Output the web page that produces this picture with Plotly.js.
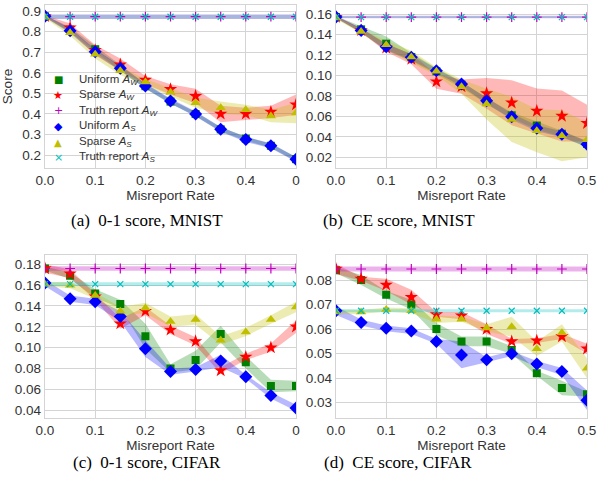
<!DOCTYPE html>
<html>
<head>
<meta charset="utf-8">
<script src="https://cdn.plot.ly/plotly-3.0.1.min.js"></script>
<style>html,body{margin:0;padding:0;background:#fff;}#chart{width:603px;height:485px;}</style>
</head>
<body>
<div id="chart"></div>
<script>
// ---------- data ----------
const misreportRate = [0, 0.05, 0.1, 0.15, 0.2, 0.25, 0.3, 0.35, 0.4, 0.45, 0.5];

const seriesNames = ["Uniform A_W", "Sparse A_W", "Truth report A_W", "Uniform A_S", "Sparse A_S", "Truth report A_S"];

// (a) 0-1 score, MNIST
const a_uniformAW    = [0.875, 0.81, 0.715, 0.625, 0.535, 0.46, 0.40, 0.325, 0.28, 0.245, 0.18];
const a_uniformAW_sd = [0.005, 0.012, 0.015, 0.015, 0.012, 0.01, 0.01, 0.01, 0.01, 0.01, 0.01];
const a_sparseAW     = [0.875, 0.82, 0.71, 0.64, 0.565, 0.52, 0.487, 0.40, 0.40, 0.41, 0.445];
const a_sparseAW_sd  = [0.005, 0.02, 0.025, 0.03, 0.02, 0.025, 0.035, 0.04, 0.03, 0.03, 0.05];
const a_truthAW      = [0.873, 0.873, 0.873, 0.873, 0.873, 0.873, 0.873, 0.873, 0.873, 0.873, 0.873];
const a_truthAW_sd   = [0.011, 0.011, 0.011, 0.011, 0.011, 0.011, 0.011, 0.011, 0.011, 0.011, 0.011];
const a_uniformAS    = [0.875, 0.805, 0.703, 0.622, 0.536, 0.463, 0.40, 0.325, 0.276, 0.245, 0.179];
const a_uniformAS_sd = [0.005, 0.012, 0.012, 0.012, 0.012, 0.012, 0.012, 0.012, 0.012, 0.012, 0.012];
const a_sparseAS     = [0.87, 0.795, 0.69, 0.61, 0.555, 0.505, 0.455, 0.43, 0.42, 0.39, 0.405];
const a_sparseAS_sd  = [0.005, 0.015, 0.02, 0.02, 0.015, 0.02, 0.025, 0.03, 0.025, 0.03, 0.05];
const a_truthAS      = [0.873, 0.873, 0.873, 0.873, 0.873, 0.873, 0.873, 0.873, 0.873, 0.873, 0.873];
const a_truthAS_sd   = [0.01, 0.01, 0.01, 0.01, 0.01, 0.01, 0.01, 0.01, 0.01, 0.01, 0.01];

// (b) CE score, MNIST
const b_uniformAW    = [0.157, 0.145, 0.131, 0.118, 0.104, 0.091, 0.075, 0.061, 0.051, 0.043, 0.033];
const b_uniformAW_sd = [0.001, 0.003, 0.007, 0.004, 0.003, 0.003, 0.003, 0.003, 0.004, 0.003, 0.003];
const b_sparseAW     = [0.157, 0.144, 0.127, 0.116, 0.094, 0.089, 0.0825, 0.0733, 0.0652, 0.0603, 0.0532];
const b_sparseAW_sd  = [0.001, 0.002, 0.004, 0.005, 0.007, 0.007, 0.015, 0.022, 0.022, 0.025, 0.018];
const b_truthAW      = [0.157, 0.157, 0.157, 0.157, 0.157, 0.157, 0.157, 0.157, 0.157, 0.157, 0.157];
const b_truthAW_sd   = [0.0012, 0.0012, 0.0012, 0.0012, 0.0012, 0.0012, 0.0012, 0.0012, 0.0012, 0.0012, 0.0012];
const b_uniformAS    = [0.157, 0.144, 0.128, 0.1177, 0.1046, 0.0916, 0.0753, 0.0597, 0.0483, 0.0425, 0.0327];
const b_uniformAS_sd = [0.001, 0.002, 0.003, 0.003, 0.002, 0.002, 0.003, 0.003, 0.003, 0.003, 0.003];
const b_sparseAS     = [0.156, 0.143, 0.130, 0.118, 0.104, 0.089, 0.072, 0.057, 0.046, 0.041, 0.037];
const b_sparseAS_sd  = [0.001, 0.002, 0.004, 0.006, 0.004, 0.007, 0.015, 0.022, 0.021, 0.025, 0.017];
const b_truthAS      = [0.157, 0.157, 0.157, 0.157, 0.157, 0.157, 0.157, 0.157, 0.157, 0.157, 0.157];
const b_truthAS_sd   = [0.0008, 0.0008, 0.0008, 0.0008, 0.0008, 0.0008, 0.0008, 0.0008, 0.0008, 0.0008, 0.0008];

// (c) 0-1 score, CIFAR
const c_uniformAW    = [0.176, 0.169, 0.152, 0.142, 0.111, 0.080, 0.088, 0.113, 0.086, 0.063, 0.063];
const c_uniformAW_sd = [0.002, 0.003, 0.004, 0.004, 0.012, 0.004, 0.009, 0.008, 0.006, 0.006, 0.005];
const c_sparseAW     = [0.176, 0.171, 0.149, 0.123, 0.135, 0.117, 0.106, 0.078, 0.091, 0.100, 0.120];
const c_sparseAW_sd  = [0.004, 0.004, 0.003, 0.005, 0.004, 0.004, 0.004, 0.003, 0.003, 0.004, 0.006];
const c_truthAW      = [0.176, 0.176, 0.176, 0.176, 0.176, 0.176, 0.176, 0.176, 0.176, 0.176, 0.176];
const c_truthAW_sd   = [0.0022, 0.0022, 0.0022, 0.0022, 0.0022, 0.0022, 0.0022, 0.0022, 0.0022, 0.0022, 0.0022];
const c_uniformAS    = [0.162, 0.147, 0.144, 0.130, 0.099, 0.077, 0.079, 0.087, 0.072, 0.054, 0.042];
const c_uniformAS_sd = [0.003, 0.003, 0.003, 0.005, 0.008, 0.003, 0.002, 0.006, 0.002, 0.003, 0.003];
const c_sparseAS     = [0.161, 0.160, 0.150, 0.135, 0.138, 0.125, 0.127, 0.107, 0.115, 0.127, 0.139];
const c_sparseAS_sd  = [0.002, 0.003, 0.003, 0.004, 0.005, 0.005, 0.005, 0.004, 0.004, 0.004, 0.005];
const c_truthAS      = [0.161, 0.161, 0.161, 0.161, 0.161, 0.161, 0.161, 0.161, 0.161, 0.161, 0.161];
const c_truthAS_sd   = [0.0018, 0.0018, 0.0018, 0.0018, 0.0018, 0.0018, 0.0018, 0.0018, 0.0018, 0.0018, 0.0018];

// (d) CE score, CIFAR
const d_uniformAW    = [0.084, 0.080, 0.074, 0.070, 0.060, 0.055, 0.055, 0.0515, 0.042, 0.036, 0.0335];
const d_uniformAW_sd = [0.0012, 0.002, 0.0015, 0.002, 0.0025, 0.002, 0.002, 0.0015, 0.001, 0.003, 0.001];
const d_sparseAW     = [0.0845, 0.0805, 0.078, 0.073, 0.066, 0.0655, 0.060, 0.055, 0.0553, 0.057, 0.052];
const d_sparseAW_sd  = [0.002, 0.0008, 0.0025, 0.003, 0.001, 0.0015, 0.002, 0.001, 0.001, 0.001, 0.002];
const d_truthAW      = [0.0845, 0.0845, 0.0845, 0.0845, 0.0845, 0.0845, 0.0845, 0.0845, 0.0845, 0.0845, 0.0845];
const d_truthAW_sd   = [0.001, 0.001, 0.001, 0.001, 0.001, 0.001, 0.001, 0.001, 0.001, 0.001, 0.001];
const d_uniformAS    = [0.0675, 0.0627, 0.0603, 0.0592, 0.055, 0.0495, 0.0475, 0.050, 0.0458, 0.0427, 0.031];
const d_uniformAS_sd = [0.0018, 0.0012, 0.0012, 0.0012, 0.001, 0.0055, 0.001, 0.001, 0.0012, 0.0015, 0.004];
const d_sparseAS     = [0.067, 0.067, 0.068, 0.0675, 0.064, 0.064, 0.0605, 0.061, 0.052, 0.0585, 0.044];
const d_sparseAS_sd  = [0.001, 0.0008, 0.0008, 0.001, 0.0015, 0.001, 0.0015, 0.004, 0.003, 0.0035, 0.004];
const d_truthAS      = [0.0675, 0.0675, 0.0675, 0.0675, 0.0675, 0.0675, 0.0675, 0.0675, 0.0675, 0.0675, 0.0675];
const d_truthAS_sd   = [0.0006, 0.0006, 0.0006, 0.0006, 0.0006, 0.0006, 0.0006, 0.0006, 0.0006, 0.0006, 0.0006];

// tick labels
const xTickVals = [0, 0.1, 0.2, 0.3, 0.4, 0.5];
const xTickTextFull = ["0.0", "0.1", "0.2", "0.3", "0.4", "0.5"];
const xTickTextCut  = ["0.0", "0.1", "0.2", "0.3", "0.4", "0"];
const aTickVals = [0.2, 0.3, 0.4, 0.5, 0.6, 0.7, 0.8, 0.9];
const aTickText = ["0.2", "0.3", "0.4", "0.5", "0.6", "0.7", "0.8", "0.9"];
const bTickVals = [0.02, 0.04, 0.06, 0.08, 0.10, 0.12, 0.14, 0.16];
const bTickText = ["0.02", "0.04", "0.06", "0.08", "0.10", "0.12", "0.14", "0.16"];
const cTickVals = [0.04, 0.06, 0.08, 0.10, 0.12, 0.14, 0.16, 0.18];
const cTickText = ["0.04", "0.06", "0.08", "0.10", "0.12", "0.14", "0.16", "0.18"];
const dTickVals = [0.03, 0.04, 0.05, 0.06, 0.07, 0.08];
const dTickText = ["0.03", "0.04", "0.05", "0.06", "0.07", "0.08"];

const captions = ["(a)&nbsp;&nbsp;0-1 score, MNIST", "(b)&nbsp;&nbsp;CE score, MNIST", "(c)&nbsp;&nbsp;0-1 score, CIFAR", "(d)&nbsp;&nbsp;CE score, CIFAR"];
const legendLabels = ["Uniform <i>A</i><sub><i>W</i></sub>", "Sparse <i>A</i><sub><i>W</i></sub>", "Truth report <i>A</i><sub><i>W</i></sub>",
                      "Uniform <i>A</i><sub><i>S</i></sub>", "Sparse <i>A</i><sub><i>S</i></sub>", "Truth report <i>A</i><sub><i>S</i></sub>"];
const legendGlyphs = ["\u25A0", "\u2605", "+", "\u25C6", "\u25B2", "\u00D7"];

// ---------- styles ----------
const styles = [
  {color: "#008000", band: "rgba(0,128,0,0.28)",    symbol: "square",          size: 8,  open: false},
  {color: "#ff0000", band: "rgba(255,0,0,0.28)",    symbol: "star",            size: 10, open: false},
  {color: "#bf00bf", band: "rgba(191,0,191,0.3)",   symbol: "cross-thin-open", size: 7,  open: true},
  {color: "#0000ff", band: "rgba(0,0,255,0.28)",    symbol: "diamond",         size: 10, open: false},
  {color: "#bfbf00", band: "rgba(191,191,0,0.3)",   symbol: "triangle-up",     size: 9,  open: false},
  {color: "#00bfbf", band: "rgba(0,191,191,0.3)",   symbol: "x-thin-open",     size: 6,  open: true}
];

const panels = [
  {xa: "x",  ya: "y",  series: [[a_uniformAW, a_uniformAW_sd], [a_sparseAW, a_sparseAW_sd], [a_truthAW, a_truthAW_sd], [a_uniformAS, a_uniformAS_sd], [a_sparseAS, a_sparseAS_sd], [a_truthAS, a_truthAS_sd]]},
  {xa: "x2", ya: "y2", series: [[b_uniformAW, b_uniformAW_sd], [b_sparseAW, b_sparseAW_sd], [b_truthAW, b_truthAW_sd], [b_uniformAS, b_uniformAS_sd], [b_sparseAS, b_sparseAS_sd], [b_truthAS, b_truthAS_sd]]},
  {xa: "x3", ya: "y3", series: [[c_uniformAW, c_uniformAW_sd], [c_sparseAW, c_sparseAW_sd], [c_truthAW, c_truthAW_sd], [c_uniformAS, c_uniformAS_sd], [c_sparseAS, c_sparseAS_sd], [c_truthAS, c_truthAS_sd]]},
  {xa: "x4", ya: "y4", series: [[d_uniformAW, d_uniformAW_sd], [d_sparseAW, d_sparseAW_sd], [d_truthAW, d_truthAW_sd], [d_uniformAS, d_uniformAS_sd], [d_sparseAS, d_sparseAS_sd], [d_truthAS, d_truthAS_sd]]}
];

const traces = [];
panels.forEach(p => {
  p.series.forEach((s, i) => {
    const mean = s[0], sd = s[1];
    traces.push({x: misreportRate, y: mean.map((m, k) => m + sd[k]), xaxis: p.xa, yaxis: p.ya,
      mode: "lines", line: {width: 0, color: styles[i].band}, showlegend: false, hoverinfo: "skip"});
    traces.push({x: misreportRate, y: mean.map((m, k) => m - sd[k]), xaxis: p.xa, yaxis: p.ya,
      mode: "lines", line: {width: 0, color: styles[i].band}, fill: "tonexty", fillcolor: styles[i].band,
      showlegend: false, hoverinfo: "skip"});
  });
  p.series.forEach((s, i) => {
    const st = styles[i];
    traces.push({x: misreportRate, y: s[0], xaxis: p.xa, yaxis: p.ya, name: seriesNames[i],
      mode: "markers", showlegend: false,
      marker: st.open ? {symbol: st.symbol, size: st.size, color: st.color, line: {color: st.color, width: 1.2}}
                      : {symbol: st.symbol, size: st.size, color: st.color, line: {width: 0}}});
  });
});

// ---------- layout ----------
const tickFont = {family: "Liberation Sans, Arial, sans-serif", size: 13.5, color: "#333333"};
const gridC = "#d4d4d4";
function ax(extra) {
  return Object.assign({showgrid: true, gridcolor: gridC, gridwidth: 1, zeroline: false,
    showline: true, mirror: true, linecolor: gridC, linewidth: 1.2, ticks: "",
    tickfont: tickFont, fixedrange: true}, extra);
}
const xTitle = {text: "Misreport Rate", font: {family: "Liberation Sans, Arial, sans-serif", size: 13.5, color: "#333333"}, standoff: 3};

const LX = [45 / 603, 296 / 603], RX = [336 / 603, 587 / 603];
const TY = [1 - 168 / 485, 1 - 5 / 485], BY = [1 - 417.7 / 485, 1 - 255 / 485];

const annotations = [];
const capX = [147, 399, 147, 398], capY = [221, 221, 462, 462];
captions.forEach((c, i) => annotations.push({text: c, xref: "paper", yref: "paper",
  x: capX[i] / 603, y: 1 - capY[i] / 485, xanchor: "center", yanchor: "middle", showarrow: false,
  font: {family: "Liberation Serif, Times New Roman, serif", size: 17, color: "#000"}}));

const legRowY = [80, 95.5, 111, 126.5, 142, 157.5];
const glyphSize = [10, 11, 11, 11, 10, 11];
legendLabels.forEach((t, i) => {
  annotations.push({text: legendGlyphs[i], xref: "paper", yref: "paper", x: 58 / 603, y: 1 - legRowY[i] / 485,
    xanchor: "center", yanchor: "middle", showarrow: false,
    font: {family: "DejaVu Sans, sans-serif", size: glyphSize[i], color: styles[i].color}});
  annotations.push({text: t, xref: "paper", yref: "paper", x: 77 / 603, y: 1 - legRowY[i] / 485,
    xanchor: "left", yanchor: "middle", showarrow: false,
    font: {family: "Liberation Sans, Arial, sans-serif", size: 11.5, color: "#333333"}});
});

const layout = {
  width: 603, height: 485,
  margin: {l: 0, r: 0, t: 0, b: 0},
  paper_bgcolor: "#ffffff", plot_bgcolor: "#ffffff",
  showlegend: false,
  xaxis:  ax({domain: LX, anchor: "y",  range: [0, 0.5], tickvals: xTickVals, ticktext: xTickTextCut,  title: xTitle}),
  yaxis:  ax({domain: TY, anchor: "x",  range: [0.137, 0.93], tickvals: aTickVals, ticktext: aTickText,
              title: {text: "Score", font: {family: "Liberation Sans, Arial, sans-serif", size: 13.5, color: "#333333"}, standoff: 6}}),
  xaxis2: ax({domain: RX, anchor: "y2", range: [0, 0.5], tickvals: xTickVals, ticktext: xTickTextFull, title: xTitle}),
  yaxis2: ax({domain: TY, anchor: "x2", range: [0.0095, 0.1688], tickvals: bTickVals, ticktext: bTickText}),
  xaxis3: ax({domain: LX, anchor: "y3", range: [0, 0.5], tickvals: xTickVals, ticktext: xTickTextCut,  title: xTitle}),
  yaxis3: ax({domain: BY, anchor: "x3", range: [0.0326, 0.189], tickvals: cTickVals, ticktext: cTickText}),
  xaxis4: ax({domain: RX, anchor: "y4", range: [0, 0.5], tickvals: xTickVals, ticktext: xTickTextFull, title: xTitle}),
  yaxis4: ax({domain: BY, anchor: "x4", range: [0.0239, 0.0902], tickvals: dTickVals, ticktext: dTickText}),
  annotations: annotations
};

Plotly.newPlot("chart", traces, layout, {displayModeBar: false, staticPlot: true});
</script>
</body>
</html>
